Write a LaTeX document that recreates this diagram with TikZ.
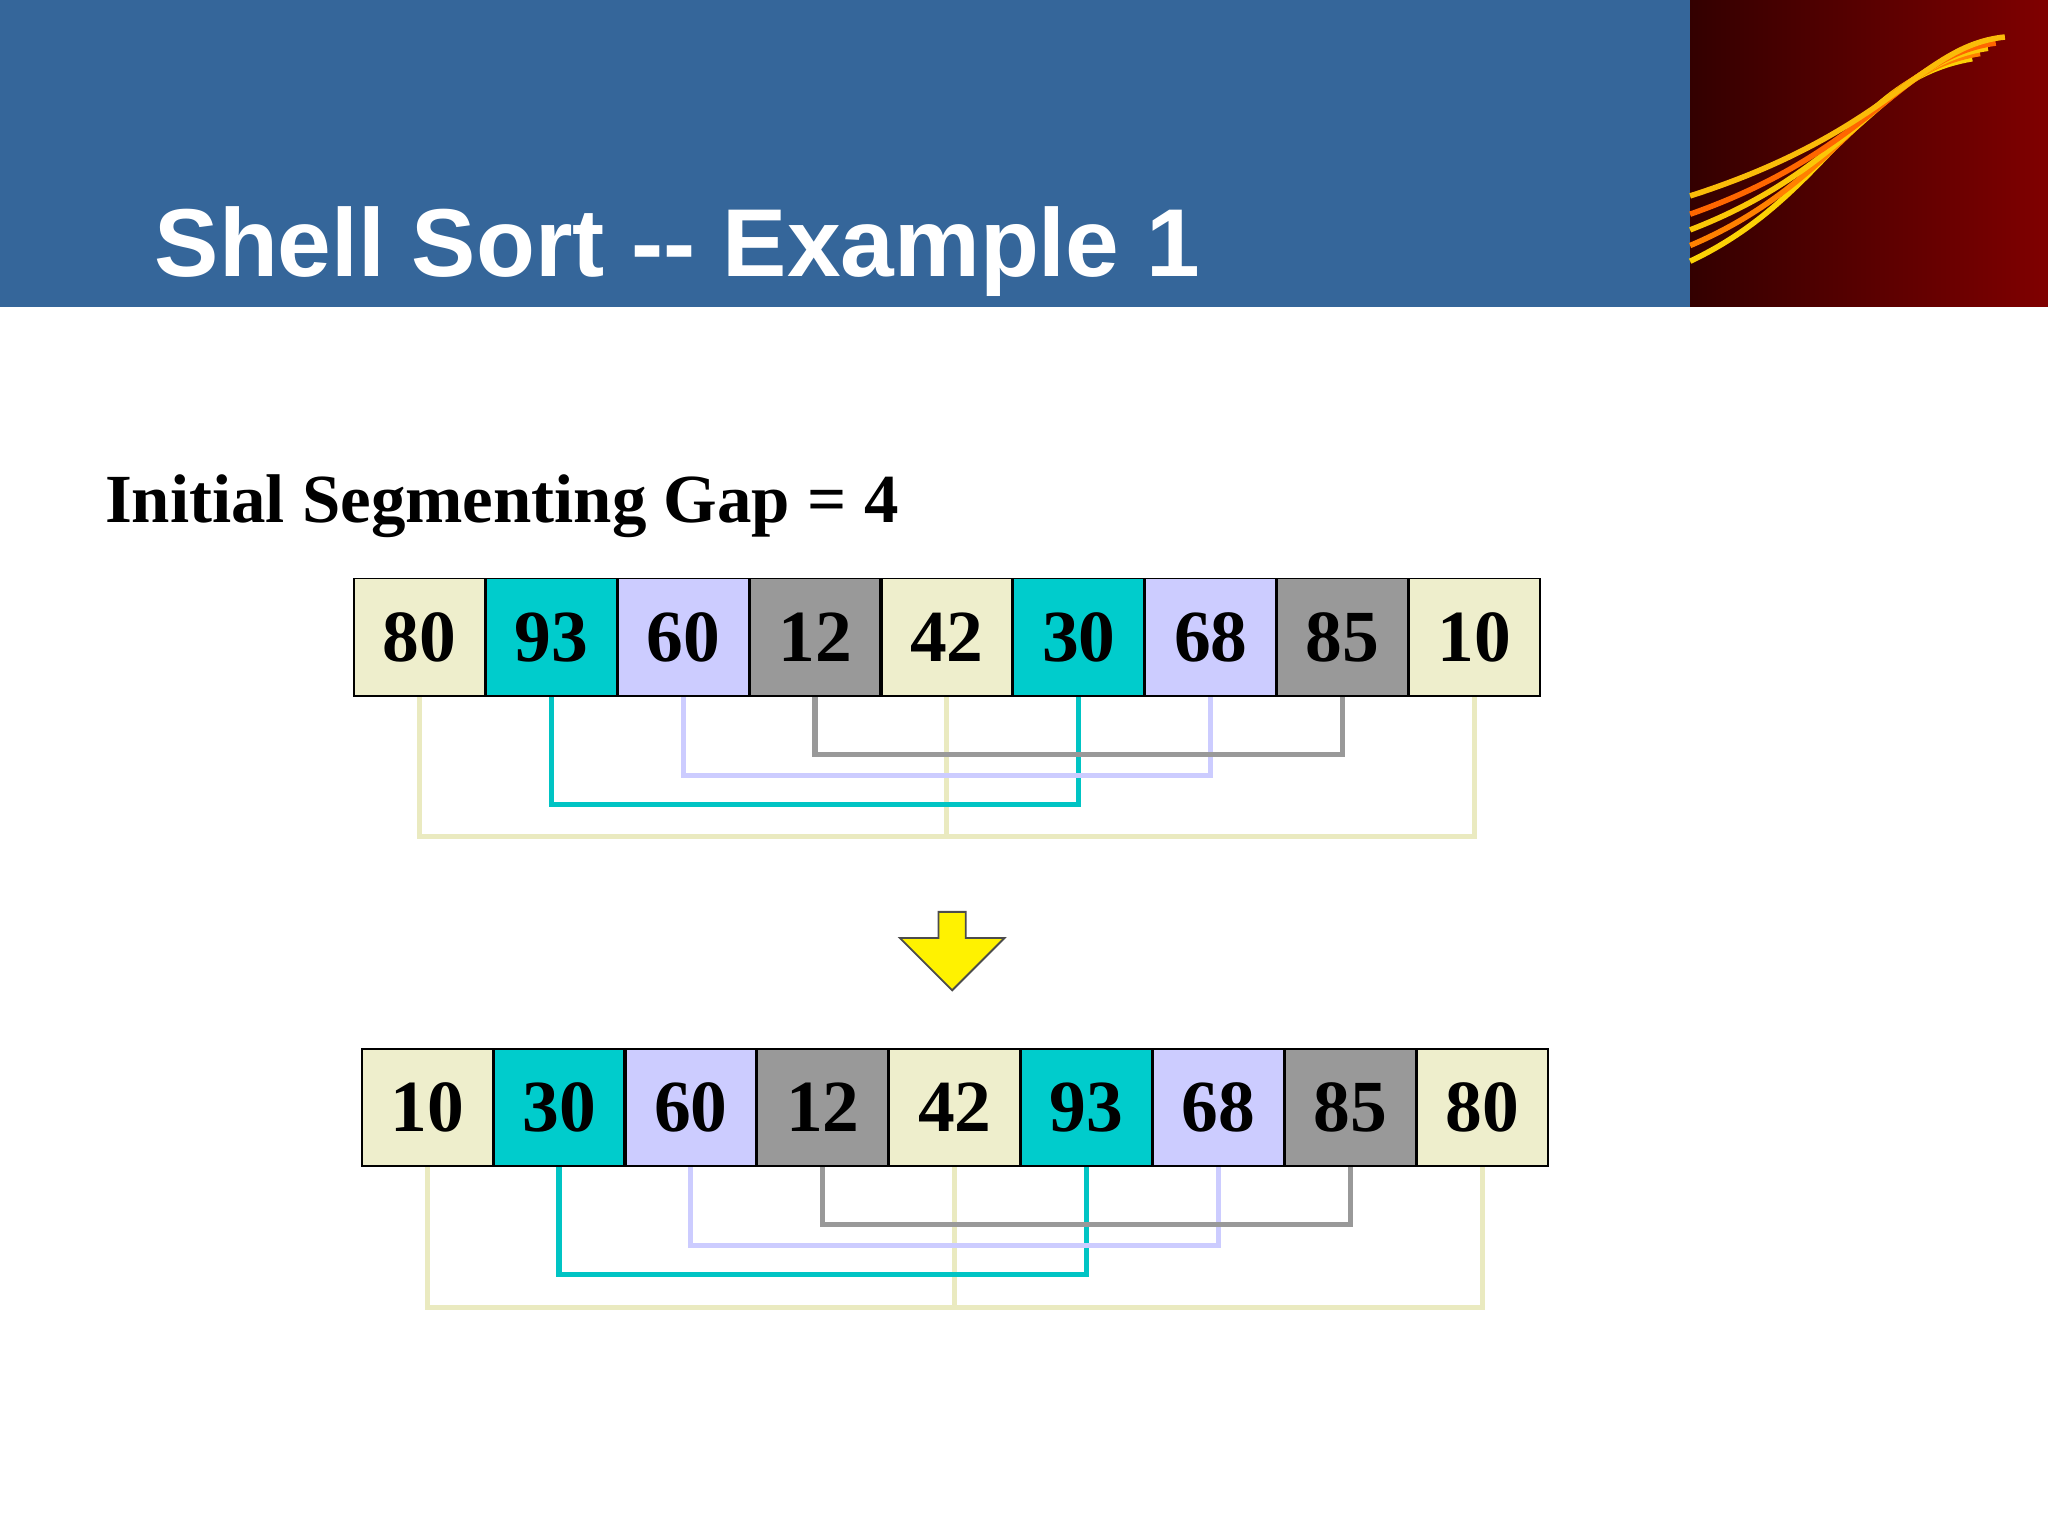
\documentclass[tikz,border=0pt]{standalone}
\usepackage{fontspec}
\setmainfont{Liberation Serif}
\newfontfamily\titlefont{Liberation Sans}
\usetikzlibrary{calc,shapes.arrows}
\definecolor{bar}{HTML}{35669A}
\definecolor{cbeige}{HTML}{EEEECC}
\definecolor{cteal}{HTML}{00CCCC}
\definecolor{clav}{HTML}{CCCCFF}
\definecolor{cgray}{HTML}{999999}
\definecolor{lbeige}{HTML}{EAEAC0}
\definecolor{lteal}{HTML}{00C4C4}
\begin{document}
\begin{tikzpicture}[x=0.01cm,y=-0.01cm,
  cell/.style={draw=black,line width=0.4pt,minimum width=1.0cm,minimum height=0.9cm,inner sep=0pt,font=\fontsize{16}{16}\selectfont\bfseries},
  conn/.style={line width=1.1pt}]
\useasboundingbox (0,0) rectangle (1568,1176);
\fill[bar] (0,0) rectangle (1294,235);
\shade[left color=black!80!red, right color=red!50!black] (1294,0) rectangle (1568,235);
\foreach \o/\c in {0/yellow!70!orange,12/orange,24/yellow!60!orange,36/orange!80!red,50/yellow!50!orange}{
  \draw[\c,line width=1.2pt] (1294,{200-\o}) .. controls ({1400+\o},{150-\o}) and ({1420+\o},{60-\o/2}) .. ({1510+\o/2},{45-\o/3});}
\node[anchor=base west,text=white,font=\titlefont\fontsize{21}{21}\selectfont\bfseries] (title) at (106,212) {Shell Sort -- Example 1};
\node[anchor=base west,font=\fontsize{15}{15}\selectfont\bfseries] (head) at (68,400) {Initial Segmenting Gap = 4};
% rows
\foreach \row/\y/\x/\vals in {t/488/271/{80,93,60,12,42,30,68,85,10},b/848/277/{10,30,60,12,42,93,68,85,80}}{
  \foreach \v [count=\i from 0] in \vals {
    \pgfmathtruncatemacro{\m}{mod(\i,4)}
    \ifcase\m \def\fc{cbeige}\or \def\fc{cteal}\or \def\fc{clav}\else \def\fc{cgray}\fi
    \node[cell,fill=\fc] (\row\i) at ({\x+50+101*\i},\y) {\v};
  }
}
\foreach \r/\dy in {t/0,b/0}{
  \draw[conn,lbeige] (\r0.south) -- ++(0,107) -| (\r8.south);
  \draw[conn,lbeige] (\r4.south) -- ($(\r4.south)+(0,107)$);
  \draw[conn,lteal] (\r1.south) -- ++(0,82) -| (\r5.south);
  \draw[conn,clav] (\r2.south) -- ++(0,60) -| (\r6.south);
  \draw[conn,cgray] (\r3.south) -- ++(0,44) -| (\r7.south);
}
\node[single arrow,shape border rotate=270,draw=black!70,fill=yellow,line width=0.4pt,
  minimum width=0.8cm,single arrow head extend=0.02cm,minimum height=0.6cm,inner sep=0pt] (arr) at (729,723) {};
\end{tikzpicture}
\end{document}
